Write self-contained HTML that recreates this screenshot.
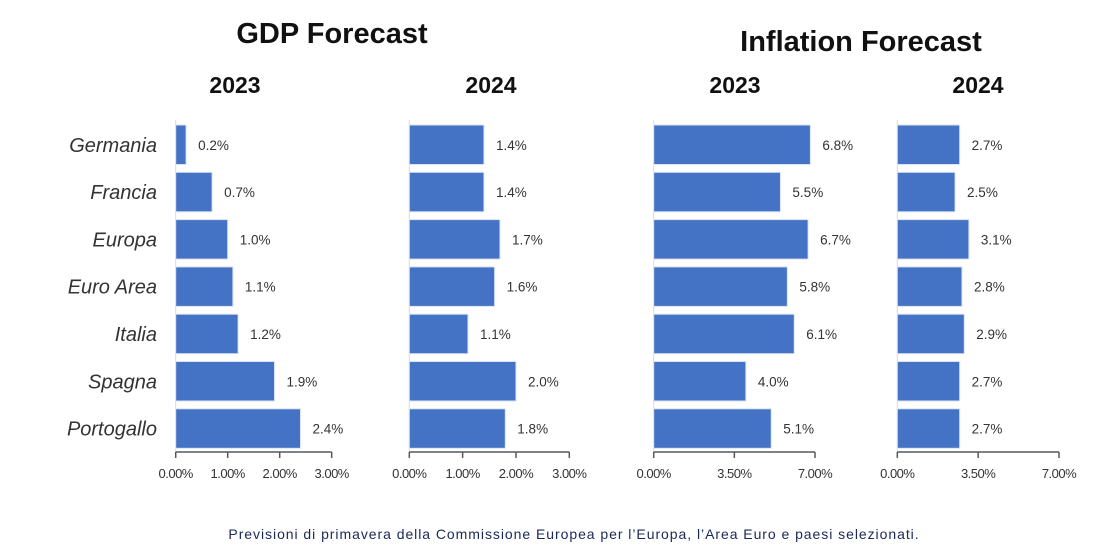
<!DOCTYPE html>
<html><head><meta charset="utf-8"><style>
body{margin:0;background:#fff;width:1115px;height:549px;overflow:hidden}
svg{display:block;font-family:"Liberation Sans",sans-serif}
</style></head><body>
<svg id="c" width="1115" height="549">
<text x="332" y="43" text-anchor="middle" font-size="29" font-weight="bold" fill="#111">GDP Forecast</text>
<text x="861" y="51" text-anchor="middle" font-size="29" font-weight="bold" fill="#111">Inflation Forecast</text>
<text x="235" y="93" text-anchor="middle" font-size="23" font-weight="bold" fill="#111">2023</text>
<text x="491" y="93" text-anchor="middle" font-size="23" font-weight="bold" fill="#111">2024</text>
<text x="735" y="93" text-anchor="middle" font-size="23" font-weight="bold" fill="#111">2023</text>
<text x="978" y="93" text-anchor="middle" font-size="23" font-weight="bold" fill="#111">2024</text>
<text x="574" y="539" text-anchor="middle" font-size="14" fill="#1a2858" letter-spacing="0.95">Previsioni di primavera della Commissione Europea per l’Europa, l’Area Euro e paesi selezionati.</text>
</svg>
<script>
const categories=["Germania","Francia","Europa","Euro Area","Italia","Spagna","Portogallo"];
const gdp2023=[0.2,0.7,1.0,1.1,1.2,1.9,2.4];
const gdp2024=[1.4,1.4,1.7,1.6,1.1,2.0,1.8];
const infl2023=[6.8,5.5,6.7,5.8,6.1,4.0,5.1];
const infl2024=[2.7,2.5,3.1,2.8,2.9,2.7,2.7];
const gdpTicks=[0,1,2,3];
const inflTicks=[0,3.5,7];
const NS="http://www.w3.org/2000/svg";
const svg=document.getElementById("c");
function mk(tag,attrs,parent){const e=document.createElementNS(NS,tag);for(const k in attrs)e.setAttribute(k,attrs[k]);(parent||svg).appendChild(e);return e;}
const rowTop=125,rowStep=47.3,barH=39.5,axisY=452;
categories.forEach((c,i)=>{
 const t=mk("text",{x:157,y:rowTop+i*rowStep+barH/2+7,"text-anchor":"end","font-size":20,"font-style":"italic",fill:"#333"});
 
 
 t.textContent=c;
});
function panel(name,vals,ticks,x0,x1,max){
 const sx=v=>x0+(v/max)*(x1-x0);
 const g=mk("g",{});
 
 
 mk("line",{x1:x0,y1:120,x2:x0,y2:axisY,stroke:"#d9d9d9","stroke-width":1},g);
 vals.forEach((v,i)=>{
  const y=rowTop+i*rowStep;
  const r=mk("rect",{x:x0,y:y,width:sx(v)-x0,height:barH,fill:"#4472C4",stroke:"#dbe4f3","stroke-width":1},g);
  
  
  const t=mk("text",{x:sx(v)+12,y:y+barH/2+5,"font-size":13.5,fill:"#333"},g);
  
  
  t.textContent=v.toFixed(1)+"%";
 });
 const ax=mk("line",{x1:x0,y1:axisY,x2:x1,y2:axisY,stroke:"#595959","stroke-width":1.5},g);
 
 
 ticks.forEach(tv=>{
  mk("line",{x1:sx(tv),y1:axisY,x2:sx(tv),y2:axisY+6,stroke:"#595959","stroke-width":1.5},g);
  const t=mk("text",{x:sx(tv),y:478,"text-anchor":"middle","font-size":13,fill:"#333","letter-spacing":"-0.5"},g);
  
  
  t.textContent=tv.toFixed(2)+"%";
 });
}
panel("gdp-2023",gdp2023,gdpTicks,175.7,331.7,3);
panel("gdp-2024",gdp2024,gdpTicks,409.3,569.3,3);
panel("inflation-2023",infl2023,inflTicks,653.7,815,7);
panel("inflation-2024",infl2024,inflTicks,897.3,1059,7);
</script>
</body></html>
